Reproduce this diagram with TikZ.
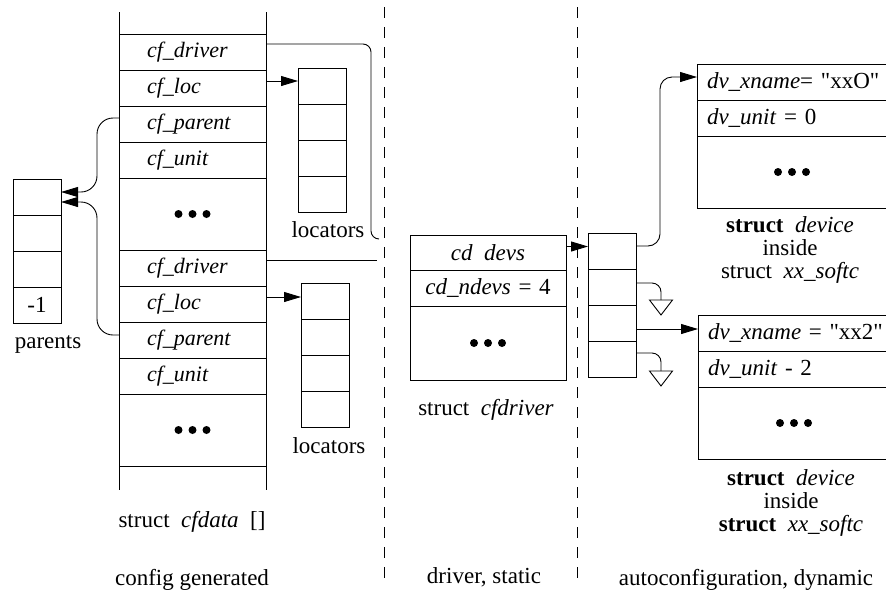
\documentclass[tikz,border=0pt]{standalone}
\usepackage{fontspec}
\setmainfont{Liberation Serif}
\usetikzlibrary{arrows.meta}

\newcommand{\fieldsize}{\fontsize{22}{24}\selectfont}
\newcommand{\threedots}[1]{
    \foreach \dx in {-14,0,14}
    \fill ([xshift=\dx pt]#1) circle (4pt);
}
\newcommand{\nullmark}[1]{
    \draw (#1) ++(-11.5,0) -- ++(23,0) -- ++(-11.5,15) -- cycle;
}

\tikzset{
    field/.style={draw, anchor=north west, minimum height=36pt, inner ysep=0pt, outer sep=0pt},
    cfrow/.style={field, text width=91pt, inner xsep=28pt, align=left, font=\fieldsize\itshape},
    cdrow/.style={field, text width=148pt, inner xsep=4pt, align=center},
    dvrow/.style={field, text width=200pt, inner xsep=10pt, align=left},
    slot/.style={draw, anchor=north west, minimum width=48pt, minimum height=36pt, inner sep=0pt, outer sep=0pt},
    ptr/.style={-{Triangle[length=17pt,width=10pt]}},
    divider/.style={dash pattern=on 11pt off 9pt, line width=0.7pt},
    lbl/.style={anchor=base},
}

\begin{document}
\begin{tikzpicture}[x=1pt,y=-1pt,line width=0.9pt,font=\fontsize{23}{23}\selectfont]
    \useasboundingbox (0,0) rectangle (886,595);

    % struct cfdata []
    \node[cfrow] (drvA) at (119,34) {cf\_driver};
    \node[cfrow] (locA) at (drvA.south west) {cf\_loc};
    \node[cfrow] (parA) at (locA.south west) {cf\_parent};
    \node[cfrow] (unitA) at (parA.south west) {cf\_unit};
    \node[cfrow, minimum height=72pt] (dotsA) at (unitA.south west) {};
    \node[cfrow] (drvB) at (dotsA.south west) {cf\_driver};
    \node[cfrow] (locB) at (drvB.south west) {cf\_loc};
    \node[cfrow] (parB) at (locB.south west) {cf\_parent};
    \node[cfrow] (unitB) at (parB.south west) {cf\_unit};
    \node[cfrow, minimum height=72pt] (dotsB) at (unitB.south west) {};
    \draw ([yshift=22pt]drvA.north west) -- ([yshift=-24pt]dotsB.south west);
    \draw ([yshift=22pt]drvA.north east) -- ([yshift=-24pt]dotsB.south east);
    \threedots{dotsA.center}
    \threedots{dotsB.center}

    % locators
    \foreach \i in {1,...,4}
        \node[slot] (locsA\i) at (298,32+36*\i) {};
    \foreach \i in {1,...,4}
        \node[slot] (locsB\i) at (301,247+36*\i) {};
    \node[lbl] (locLblA) at (328,237) {locators};
    \node[lbl] (locLblB) at (329,453) {locators};

    % parents
    \foreach \i in {1,2,3}
        \node[slot] (par\i) at (13,143+36*\i) {};
    \node[slot] (par4) at (par3.south west) {-1};
    \node[lbl] (parLbl) at (48,348) {parents};

    % struct cfdriver
    \node[cdrow, minimum height=35pt] (cdDevs) at (410,235) {\textit{cd\enskip devs}};
    \node[cdrow] (cdNdevs) at (cdDevs.south west) {\textit{cd\_ndevs} = 4};
    \node[cdrow, minimum height=74pt] (cdDots) at (cdNdevs.south west) {};
    \threedots{cdDots.center}

    % device pointers
    \foreach \i in {1,...,4}
        \node[slot] (dev\i) at (588,197+36*\i) {};

    % struct device
    \node[dvrow] (xnameA) at (697,64) {\textit{dv\_xname}= \textquotedbl xxO\textquotedbl};
    \node[dvrow] (unitDA) at (xnameA.south west) {\textit{dv\_unit} = 0};
    \node[dvrow, minimum height=72pt] (dvDotsA) at (unitDA.south west) {};
    \node[dvrow] (xnameB) at (698,315) {\textit{dv\_xname} = \textquotedbl xx2\textquotedbl};
    \node[dvrow] (unitDB) at (xnameB.south west) {\textit{dv\_unit} - 2};
    \node[dvrow, minimum height=72pt] (dvDotsB) at (unitDB.south west) {};
    \coordinate (dvMidA) at ([xshift=-15pt]dvDotsA.center);
    \coordinate (dvMidB) at ([xshift=-14pt]dvDotsB.center);
    \threedots{dvMidA}
    \threedots{dvMidB}
    \node[align=center, anchor=north, inner sep=0pt] (devLblA) at (790,216)
        {\textbf{struct}\enskip\textit{device}\\inside\\struct\enskip\textit{xx\_softc}};
    \node[align=center, anchor=north, inner sep=0pt] (devLblB) at (791,469)
        {\textbf{struct}\enskip\textit{device}\\inside\\\textbf{struct}\enskip\textit{xx\_softc}};

    % pointers
    \draw[ptr] ([yshift=7pt]locA.east) -- ([yshift=7pt]locA.east -| locsA1.west);
    \draw[ptr] ([yshift=7pt]locB.east) -- ([yshift=7pt]locB.east -| locsB1.west);
    \draw[ptr, rounded corners=16pt] ([yshift=6pt]parA.west)
        -| ([xshift=36pt,yshift=5pt]par1.east) -- ([yshift=5pt]par1.east);
    \draw[ptr, rounded corners=16pt] ([yshift=5pt]parB.west)
        -| ([xshift=36pt,yshift=-5pt]par1.east) -- ([yshift=-5pt]par1.east);
    \coordinate (drvEndA) at (379,239);
    \draw[rounded corners=8pt] ([yshift=8pt]drvA.east) -| ([xshift=-8pt]drvEndA) -- (drvEndA);
    \coordinate (drvEndB) at (377,260);
    \draw ([yshift=8pt]drvB.east) -- (drvEndB);
    \draw[ptr] ([yshift=6pt]cdDevs.east) -- ([yshift=6pt]cdDevs.east -| dev1.west);
    \draw[ptr, rounded corners=12pt] ([yshift=5pt]dev1.east)
        -| ([xshift=-37pt,yshift=5pt]xnameA.west) -- ([yshift=5pt]xnameA.west);
    \draw[ptr] ([yshift=-6pt]dev3.east) -- ([yshift=-6pt]dev3.east -| xnameB.west);
    \coordinate (nullA) at (661,300);
    \draw[rounded corners=9pt] ([yshift=4pt]dev2.east) -| (nullA);
    \nullmark{nullA}
    \coordinate (nullB) at (661,371);
    \draw[rounded corners=9pt] ([yshift=6pt]dev4.east) -| (nullB);
    \nullmark{nullB}

    % boundaries
    \draw[divider] (384,7) -- (384,585);
    \draw[divider] (577,7) -- (577,585);

    % captions
    \node[lbl] (cfdLbl) at (192,527) {struct\enskip\textit{cfdata}\enskip[]};
    \node[lbl] (genLbl) at (192,585) {config generated};
    \node[lbl] (cdLbl) at (486,415) {struct\enskip\textit{cfdriver}};
    \node[lbl] (statLbl) at (484,583) {driver, static};
    \node[lbl] (dynLbl) at (746,585) {autoconfiguration, dynamic};
\end{tikzpicture}
\end{document}
